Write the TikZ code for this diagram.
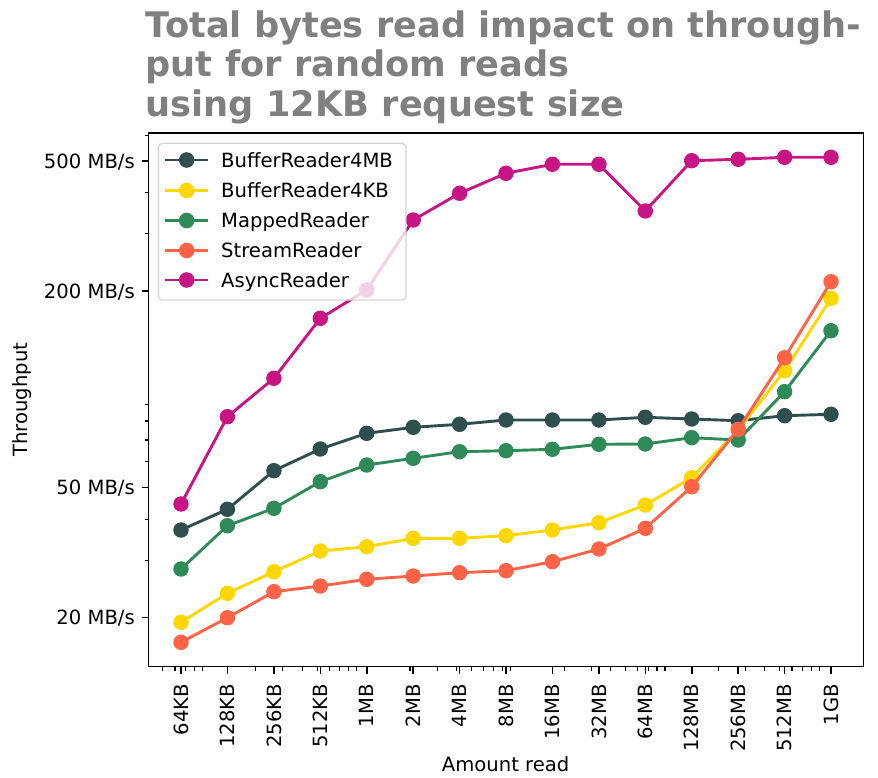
\documentclass[tikz,border=0pt]{standalone}
\usepackage{fontspec}
\setmainfont{DejaVu Sans}
\definecolor{cdark}{HTML}{2F4F4F}
\definecolor{cgold}{HTML}{FFD700}
\definecolor{cgreen}{HTML}{2E8B57}
\definecolor{ctomato}{HTML}{FF6347}
\definecolor{cmvr}{HTML}{C71585}
\definecolor{titlegray}{HTML}{808080}
\definecolor{legedge}{HTML}{CCCCCC}
\begin{document}
\begin{tikzpicture}[x=1pt,y=-1pt,
  spine/.style={line width=1.57pt, line cap=rect},
  majtick/.style={line width=1.57pt},
  mintick/.style={line width=1.2pt},
  ser/.style={line width=2.9pt, line join=round, mark=*, mark size=7.2pt, mark options={line width=1pt}},
  lab/.style={font=\fontsize{19.6}{23.5}\selectfont, inner sep=0pt},
  ttl/.style={font=\fontsize{35.2}{42}\selectfont\bfseries, text=titlegray, inner sep=0pt, anchor=base west},
  legline/.style={line width=2.9pt}]
\useasboundingbox (0,0) rectangle (878,778);

% title
\node[ttl] (title1) at (145.5,37.3) {Total bytes read impact on through-};
\node[ttl] (title2) at (145.5,76.8) {put for random reads};
\node[ttl] (title3) at (145.5,116.3) {using 12KB request size};

% data series
\draw[ser, color=cdark] plot coordinates {(181,530) (227.4,509.3) (273.9,470.7) (320.3,449) (366.7,433.3) (413.2,427.3) (459.6,424.3) (506.0,420) (552.4,420) (598.9,420) (645.3,417.3) (691.7,419) (738.2,420.7) (784.6,415.7) (831.0,414.3)};
\draw[ser, color=cgold] plot coordinates {(181,622.3) (227.4,593.3) (273.9,571.7) (320.3,551) (366.7,546.7) (413.2,538.3) (459.6,538.3) (506.0,535.7) (552.4,530) (598.9,522.7) (645.3,505) (691.7,477.7) (738.2,430) (784.6,370.7) (831.0,298.3)};
\draw[ser, color=cgreen] plot coordinates {(181,569) (227.4,525.7) (273.9,508.3) (320.3,481.7) (366.7,465) (413.2,458.3) (459.6,451.7) (506.0,450.7) (552.4,449.3) (598.9,444.3) (645.3,444) (691.7,437.7) (738.2,440) (784.6,391.7) (831.0,330.7)};
\draw[ser, color=ctomato] plot coordinates {(181,642.3) (227.4,617.7) (273.9,591.7) (320.3,586) (366.7,579.3) (413.2,576) (459.6,572.7) (506.0,570.7) (552.4,561.7) (598.9,549) (645.3,528.3) (691.7,486.7) (738.2,429.3) (784.6,357.7) (831.0,281.7)};
\draw[ser, color=cmvr] plot coordinates {(181,504) (227.4,416.7) (273.9,378.3) (320.3,318.3) (366.7,290) (413.2,220) (459.6,193.3) (506.0,173.3) (552.4,164.3) (598.9,164.3) (645.3,211) (691.7,160.7) (738.2,159.3) (784.6,157.3) (831.0,157.3)};

% axes frame
\draw[spine] (148.5,133) rectangle (863.5,666.6);

% x major ticks and labels
\foreach \lbl [count=\i from 0] in {64KB,128KB,256KB,512KB,1MB,2MB,4MB,8MB,16MB,32MB,64MB,128MB,256MB,512MB,1GB} {
  \pgfmathsetmacro{\xx}{181+46.43*\i}
  \draw[majtick] (\xx,666.6) -- (\xx,673.5);
  \node[lab, rotate=90, anchor=east, text height=14.3pt, text depth=0pt] (xl\i) at (\xx,684) {\lbl};
}
% x minor ticks
\foreach \k in {5,6,7,8} {
  \foreach \d in {2,...,9} {
    \pgfmathsetmacro{\xx}{181+((ln(\d)/ln(10)+\k)*3.321928-16)*46.43}
    \draw[mintick] (\xx,666.6) -- (\xx,670.5);
  }
}
\foreach \d in {5,...,9} {
  \pgfmathsetmacro{\xx}{181+((ln(\d)/ln(10)+4)*3.321928-16)*46.43}
  \draw[mintick] (\xx,666.6) -- (\xx,670.5);
}

% y major ticks and labels
\foreach \v in {20,50,200,500} {
  \pgfmathsetmacro{\yy}{617.7-ln(\v/20)/ln(10)*326.7}
  \draw[majtick] (141.6,\yy) -- (148.5,\yy);
  \node[lab, anchor=base east] (yl\v) at (135,\yy+7.1) {\v\ MB/s};
}
% y minor ticks
\foreach \v in {30,40,60,70,80,90,300,400,600} {
  \pgfmathsetmacro{\yy}{617.7-ln(\v/20)/ln(10)*326.7}
  \draw[mintick] (144.6,\yy) -- (148.5,\yy);
}

% axis labels
\node[lab, rotate=90, anchor=base] (ylabel) at (27.2,399.8) {Throughput};
\node[lab, anchor=base] (xlabel) at (505.6,771.6) {Amount read};

% legend
\draw[line width=1.4pt, draw=legedge, fill=white, opacity=0.8, rounded corners=4pt] (158.3,143.3) rectangle (406,300);
\foreach \c/\name/\yy [count=\j] in {cdark/BufferReader4MB/160, cgold/BufferReader4KB/190.5, cgreen/MappedReader/220.5, ctomato/StreamReader/250.5, cmvr/AsyncReader/280} {
  \draw[legline, color=\c] (165,\yy) -- (208.3,\yy);
  \fill[\c] (186.7,\yy) circle (7.8);
  \node[lab, anchor=base west] (leg\j) at (221,\yy+7.1) {\name};
}
\end{tikzpicture}
\end{document}
